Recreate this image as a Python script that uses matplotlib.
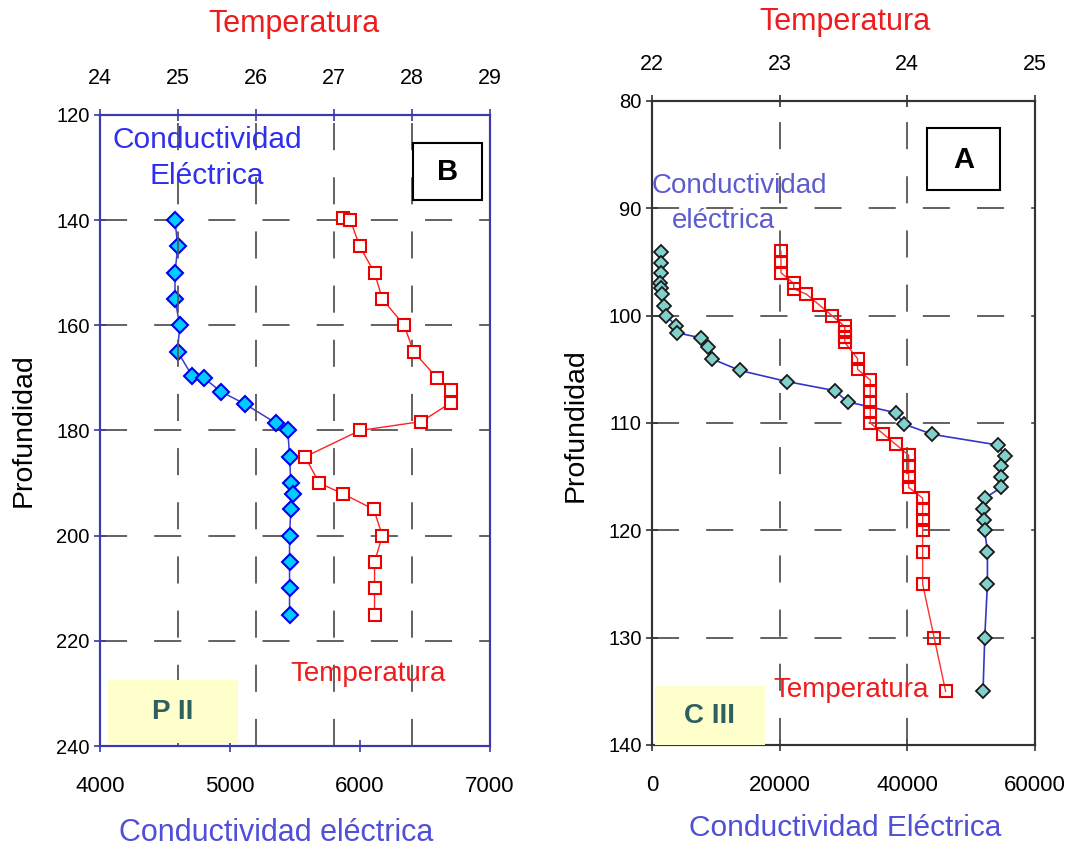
import matplotlib
matplotlib.use("Agg")
import matplotlib.pyplot as plt
from matplotlib.patches import Rectangle

plt.rcParams['font.family'] = ['Liberation Sans', 'DejaVu Sans']

# ---------------- data: panel B (P II) ----------------
b_cond_depth = [140, 145, 150, 155, 160, 165, 169.7, 170.1, 172.6, 175, 178.6, 180,
                185, 190, 192, 195, 200, 205, 210, 215]
b_cond = [4577, 4598, 4577, 4577, 4613, 4597, 4711, 4803, 4930, 5118, 5354, 5445,
          5458, 5468, 5484, 5468, 5458, 5458, 5458, 5458]
b_temp_depth = [139.5, 140, 145, 150, 155, 160, 165, 170, 172.3, 174.7, 178.3, 180,
                185, 190, 192, 195, 200, 205, 210, 215]
b_temp = [27.11, 27.21, 27.33, 27.52, 27.62, 27.90, 28.02, 28.32, 28.50, 28.50, 28.12, 27.33,
          26.63, 26.81, 27.11, 27.51, 27.62, 27.52, 27.52, 27.52]
b_depth_ticks = [120, 140, 160, 180, 200, 220, 240]
b_cond_ticks = [4000, 5000, 6000, 7000]
b_temp_ticks = [24, 25, 26, 27, 28, 29]

# ---------------- data: panel A (C III) ----------------
a_cond_depth = [94.07, 95.05, 95.98, 96.97, 97.46, 98.02, 99.13, 100, 100.99, 101.6,
                102.07, 102.93, 104.01, 105.1, 106.14, 106.98, 108.03, 109.05, 110.1,
                111.06, 112.05, 113.07, 114, 115, 116, 117, 118, 119, 120, 122, 125, 130, 135]
a_cond = [1453, 1453, 1453, 1297, 1453, 1610, 1875, 2250, 3828, 3984,
          7656, 8812, 9328, 13750, 21156, 28610, 30656, 38219, 39469,
          43938, 54172, 55281, 54750, 54750, 54750, 52125, 51860, 52015, 52125, 52547, 52547, 52125, 51860]
a_temp_depth = [94, 95, 96, 97, 97.5, 98, 99, 100, 101, 101.5, 102, 102.5, 104, 105,
                106, 107, 108, 109, 110, 111, 112, 113, 114, 115, 116, 117, 118, 119, 120,
                122, 125, 130, 135]
a_temp = [23.01, 23.01, 23.01, 23.11, 23.11, 23.21, 23.31, 23.41, 23.51, 23.51, 23.51, 23.51,
          23.61, 23.61, 23.71, 23.71, 23.71, 23.71, 23.71, 23.81, 23.91, 24.01, 24.01, 24.01,
          24.01, 24.12, 24.12, 24.12, 24.12, 24.12, 24.12, 24.21, 24.30]
a_depth_ticks = [80, 90, 100, 110, 120, 130, 140]
a_cond_ticks = [0, 20000, 40000, 60000]
a_temp_ticks = [22, 23, 24, 25]

W, H = 1070, 852
fig = plt.figure(figsize=(W / 100, H / 100), dpi=100)


def fx(x):
    return x / W


def fy(y):
    return 1 - y / H


def box(x0, y0, x1, y1, **kw):
    fig.patches.append(Rectangle((fx(x0), fy(y1)), fx(x1) - fx(x0), fy(y0) - fy(y1),
                                 transform=fig.transFigure, **kw))


GRID = dict(color='#555555', linewidth=1.3, linestyle=(0, (15, 15)))


def make_panel(rect, spine_color, cond_lim, cond_ticks, temp_lim, temp_ticks,
               depth_lim, depth_ticks):
    ax = fig.add_axes(rect)
    ax.set_xlim(*cond_lim)
    ax.set_ylim(depth_lim[1], depth_lim[0])
    ax.set_xticks(cond_ticks)
    ax.set_yticks(depth_ticks)
    ax.tick_params(axis='both', direction='inout', length=9, width=1.2,
                   color=spine_color)
    ax.tick_params(axis='x', pad=17, labelsize=16)
    ax.tick_params(axis='y', pad=3, labelsize=14.5)
    ax.yaxis.grid(True, **GRID)
    for s in ax.spines.values():
        s.set_color(spine_color)
        s.set_linewidth(1.5)
    axt = ax.twiny()
    axt.set_xlim(*temp_lim)
    axt.set_xticks(temp_ticks)
    axt.tick_params(axis='x', direction='inout', length=9, width=1.2,
                    labelsize=15.5, color=spine_color, pad=14)
    axt.xaxis.grid(True, **GRID)
    for s in axt.spines.values():
        s.set_color(spine_color)
        s.set_linewidth(1.5)
    ax.set_axisbelow(True)
    axt.set_axisbelow(True)
    return ax, axt


# ---------------- panel B ----------------
axB, axBt = make_panel([fx(100), fy(746), fx(490) - fx(100), fy(115) - fy(746)],
                       '#3a3aa8', (4000, 7000), b_cond_ticks, (24, 29), b_temp_ticks,
                       (120, 240), b_depth_ticks)
axB.plot(b_cond, b_cond_depth, color='#3c3ccc', lw=1.1, marker='D', ms=8,
         mfc='#00ccff', mec='#0000ee', mew=1.5, zorder=3)
axBt.plot(b_temp, b_temp_depth, color='#ff2020', lw=1.0, marker='s', ms=9,
          mfc='white', mec='#ee0000', mew=1.5, zorder=3)

# ---------------- panel A ----------------
axA, axAt = make_panel([fx(652), fy(745), fx(1035) - fx(652), fy(101) - fy(745)],
                       '#333333', (0, 60000), a_cond_ticks, (22, 25), a_temp_ticks,
                       (80, 140), a_depth_ticks)
axA.plot(a_cond, a_cond_depth, color='#3434cc', lw=1.2, marker='D', ms=7.5,
         mfc='#80d0cc', mec='#1a1a1a', mew=1.3, zorder=3)
axAt.plot(a_temp, a_temp_depth, color='#ff3030', lw=1.0, marker='s', ms=8,
          mfc='none', mec='#ee0000', mew=1.5, zorder=3)

# ---------------- texts ----------------
RED = '#ee1c1c'
fig.text(fx(294), fy(24), 'Temperatura', color=RED, fontsize=22, ha='center', va='center')
fig.text(fx(845), fy(22), 'Temperatura', color=RED, fontsize=22, ha='center', va='center')
fig.text(fx(276), fy(833), 'Conductividad eléctrica', color='#4f4fd8', fontsize=22,
         ha='center', va='center')
fig.text(fx(845), fy(828), 'Conductividad Eléctrica', color='#4f4fd8', fontsize=21.5,
         ha='center', va='center')
fig.text(fx(24), fy(430), 'Profundidad', fontsize=20.5, rotation=90, ha='center', va='center')
fig.text(fx(576), fy(425), 'Profundidad', fontsize=20.5, rotation=90, ha='center', va='center')

fig.text(fx(112), fy(140), 'Conductividad', color='#2f2ff0', fontsize=21.5, ha='left', va='center')
fig.text(fx(150), fy(176), 'Eléctrica', color='#2f2ff0', fontsize=21.5, ha='left', va='center')
fig.text(fx(290), fy(674), 'Temperatura', color=RED, fontsize=20, ha='left', va='center')

fig.text(fx(652), fy(186), 'Conductividad', color='#5c5cd0', fontsize=20, ha='left', va='center')
fig.text(fx(672), fy(221), 'eléctrica', color='#5c5cd0', fontsize=20, ha='left', va='center')
fig.text(fx(773), fy(690), 'Temperatura', color=RED, fontsize=20, ha='left', va='center')

# labelled boxes
box(413, 143, 482, 200, facecolor='white', edgecolor='black', linewidth=1.5, zorder=5)
fig.text(fx(447.5), fy(172), 'B', fontsize=21, fontweight='bold', ha='center', va='center', zorder=6)
box(927, 128, 1000, 190, facecolor='white', edgecolor='black', linewidth=1.5, zorder=5)
fig.text(fx(963.5), fy(160), 'A', fontsize=21, fontweight='bold', ha='center', va='center', zorder=6)

box(108, 680, 238, 743, facecolor='#ffffcc', edgecolor='none', zorder=5)
fig.text(fx(173), fy(712), 'P II', fontsize=20, fontweight='bold', color='#2f5f5f',
         ha='center', va='center', zorder=6)
box(655, 686, 765, 745, facecolor='#ffffcc', edgecolor='none', zorder=5)
fig.text(fx(710), fy(716), 'C III', fontsize=20, fontweight='bold', color='#2f5f5f',
         ha='center', va='center', zorder=6)

fig.savefig('out.png', dpi=100)
